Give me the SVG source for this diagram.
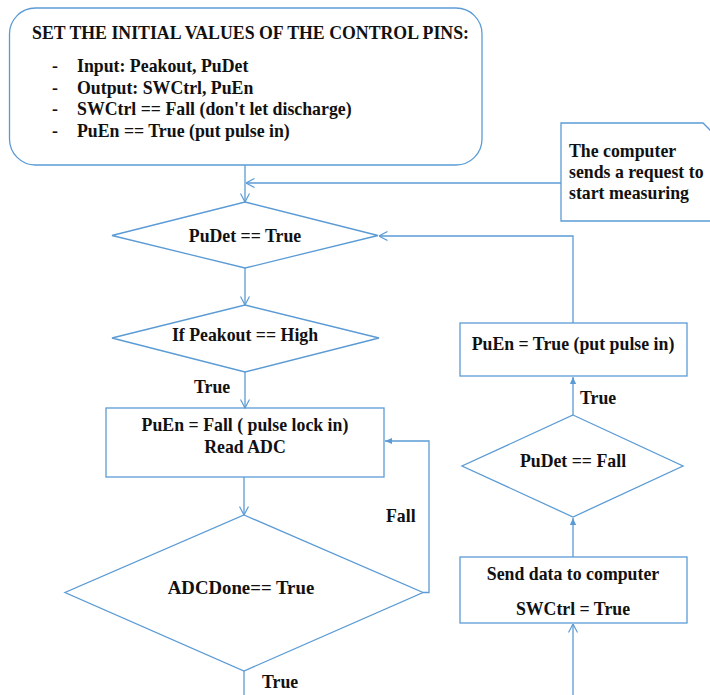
<svg xmlns="http://www.w3.org/2000/svg" width="710" height="695" viewBox="0 0 710 695">
<defs>
<marker id="open" viewBox="0 0 10 10" refX="9.5" refY="5" markerWidth="10" markerHeight="10" markerUnits="userSpaceOnUse" orient="auto">
<path d="M1,0.5 L9.5,5 L1,9.5" fill="none" stroke="#5B9BD5" stroke-width="1.2"/>
</marker>
<marker id="fill" viewBox="0 0 10 10" refX="9" refY="5" markerWidth="8" markerHeight="8" markerUnits="userSpaceOnUse" orient="auto">
<path d="M0,1 L9,5 L0,9 Z" fill="#5B9BD5"/>
</marker>
</defs>
<style>
.s{fill:#fff;stroke:#5B9BD5;stroke-width:1.3}
.c{fill:none;stroke:#5B9BD5;stroke-width:1.3}
text{font-weight:bold;font-size:17.8px;fill:#111}
.m{text-anchor:middle}
</style>
<rect width="710" height="695" fill="#fff"/>
<g font-family="'Liberation Serif', 'DejaVu Serif', serif">
<g id="init">
<rect class="s" x="9.5" y="8" width="472.5" height="157" rx="26"/>
<text x="32" y="39">SET THE INITIAL VALUES OF THE CONTROL PINS:</text>
<text x="52" y="72">-</text><text x="77" y="72">Input: Peakout, PuDet</text>
<text x="52" y="94">-</text><text x="77" y="94">Output: SWCtrl, PuEn</text>
<text x="52" y="115">-</text><text x="77" y="115">SWCtrl == Fall (don't let discharge)</text>
<text x="52" y="137">-</text><text x="77" y="137">PuEn == True (put pulse in)</text>
</g>
<g id="note">
<path class="s" d="M561,123 H703 L716,136 V221 H561 Z"/>
<text x="569" y="157">The computer</text>
<text x="569" y="178">sends a request to</text>
<text x="569" y="199">start measuring</text>
</g>
<g id="d1">
<polygon class="s" points="245,202 378,235.5 245,268 112,235.5"/>
<text class="m" x="245" y="241.5">PuDet == True</text>
</g>
<g id="d2">
<polygon class="s" points="245,305 379,338 245,372 112,338"/>
<text class="m" x="245" y="341">If Peakout == High</text>
</g>
<g id="r1">
<rect class="s" x="106" y="408" width="278" height="69"/>
<text class="m" x="245" y="431">PuEn = Fall ( pulse lock in)</text>
<text class="m" x="245" y="453">Read ADC</text>
</g>
<g id="d3">
<polygon class="s" points="244,515 423,592.5 244,671 65,592.5"/>
<text class="m" x="241" y="594" style="font-size:18.8px">ADCDone== True</text>
</g>
<g id="r2">
<rect class="s" x="460" y="323" width="227" height="53"/>
<text class="m" x="573" y="350">PuEn = True (put pulse in)</text>
</g>
<g id="d4">
<polygon class="s" points="573,415 683,466 573,517 462,466"/>
<text class="m" x="573" y="466.5">PuDet == Fall</text>
</g>
<g id="r3">
<rect class="s" x="460" y="557" width="227" height="66"/>
<text class="m" x="573" y="580">Send data to computer</text>
<text class="m" x="573" y="615">SWCtrl = True</text>
</g>
<g id="connectors">
<path class="c" d="M245,165 V202" marker-end="url(#open)"/>
<path class="c" d="M561,183 H246" marker-end="url(#open)"/>
<path class="c" d="M573,323 V236 H379" marker-end="url(#open)"/>
<path class="c" d="M245,268 V305" marker-end="url(#open)"/>
<path class="c" d="M245,372 V408" marker-end="url(#open)"/>
<path class="c" d="M244,477 V515" marker-end="url(#open)"/>
<path class="c" d="M423,592.5 H429 V441 H385" marker-end="url(#fill)"/>
<path class="c" d="M244,671 V695"/>
<path class="c" d="M573,695 V624" marker-end="url(#open)"/>
<path class="c" d="M573,557 V518" marker-end="url(#fill)"/>
<path class="c" d="M573,415 V377" marker-end="url(#fill)"/>
<text x="194" y="392.5">True</text>
<text x="386" y="521.5">Fall</text>
<text x="262" y="688">True</text>
<text x="580" y="404">True</text>
</g>
</g>
</svg>
